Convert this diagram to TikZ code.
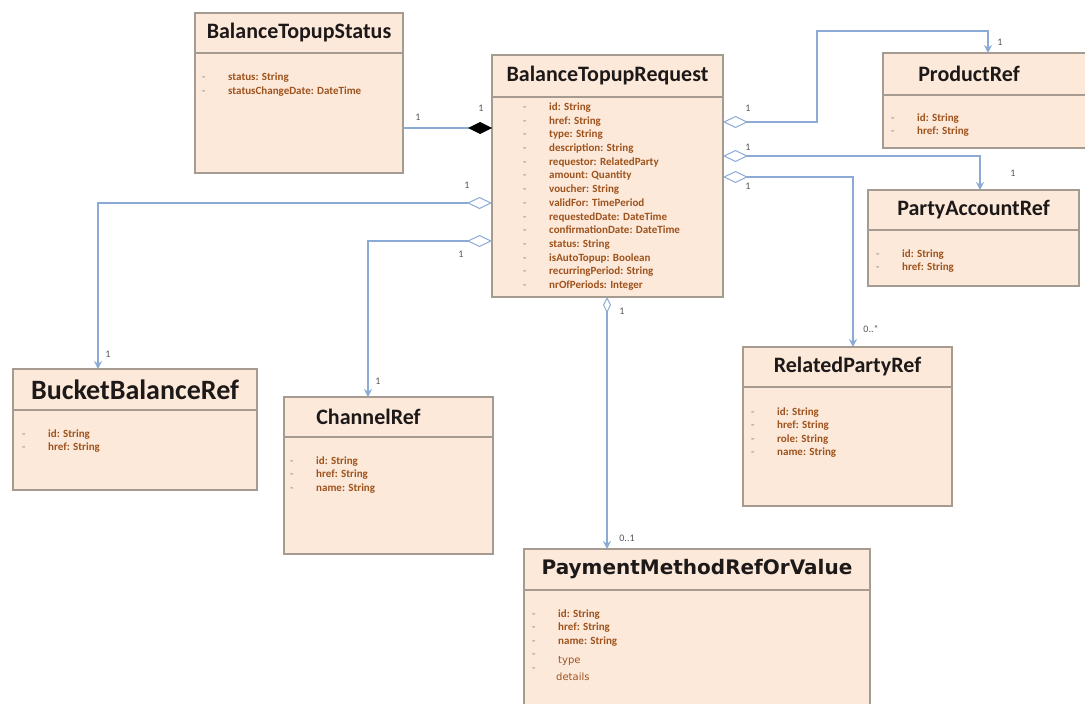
\documentclass[tikz,border=0pt]{standalone}
\usepackage{fontspec}
\setmainfont{Carlito}
\newfontfamily\dejavu{DejaVu Sans}
\usetikzlibrary{positioning,arrows.meta}

\definecolor{boxfill}{RGB}{252,233,218}
\definecolor{boxedge}{RGB}{165,155,145}
\definecolor{titlecol}{RGB}{30,25,25}
\definecolor{attrcol}{RGB}{158,82,28}
\definecolor{dashcol}{RGB}{175,160,150}
\definecolor{linkblue}{RGB}{140,170,214}
\definecolor{multcol}{RGB}{85,85,85}

\newcommand\umlattr[1]{\makebox[26pt][l]{\textcolor{dashcol}{-}}#1}

\begin{document}
\begin{tikzpicture}[x=1pt,y=-1pt,
    headbox/.style={draw=boxedge,fill=boxfill,line width=1.2pt,outer sep=0pt,inner sep=0pt,anchor=north west,text=titlecol,font=\fontsize{22}{24}\selectfont\bfseries},
    bodybox/.style={draw=boxedge,fill=boxfill,line width=1.2pt,outer sep=0pt,inner sep=0pt},
    attrs/.style={inner sep=0pt,align=left,text=attrcol,font=\fontsize{11}{13.5}\selectfont\bfseries},
    assoc/.style={draw=linkblue,line width=1.4pt},
    aggr/.style={assoc,arrows={Diamond[length=25pt,width=12pt,fill=white,line width=1pt]-Stealth[length=8pt,width=8pt]}},
    aggrv/.style={assoc,arrows={Diamond[length=16pt,width=8pt,fill=white,line width=1pt]-Stealth[length=8pt,width=8pt]}},
    comp/.style={assoc,arrows={-Diamond[length=24pt,width=12pt,fill=black,color=black]}},
    mult/.style={inner sep=0pt,text=multcol,font=\fontsize{10}{10}\selectfont}]
  \useasboundingbox (0,0) rectangle (1085,704);

  % classes
  \node[headbox,minimum width=208pt,minimum height=40pt] (statushead) at (195,13) {BalanceTopupStatus};
  \node[bodybox,minimum width=208pt,minimum height=120pt,below=0pt of statushead] (statusbody) {};
  \node[attrs,below right=20pt and 7pt of statusbody.north west] (statusattr)
    {\umlattr{status: String}\\ \umlattr{statusChangeDate: DateTime}};

  \node[headbox,minimum width=231pt,minimum height=42pt] (reqhead) at (492,55) {BalanceTopupRequest};
  \node[bodybox,minimum width=231pt,minimum height=200pt,below=0pt of reqhead] (reqbody) {};
  \node[attrs,font=\fontsize{11}{13.7}\selectfont\bfseries,below right=5.5pt and 31pt of reqbody.north west] (reqattr)
    {\umlattr{id: String}\\ \umlattr{href: String}\\ \umlattr{type: String}\\ \umlattr{description: String}\\
     \umlattr{requestor: RelatedParty}\\ \umlattr{amount: Quantity}\\ \umlattr{voucher: String}\\
     \umlattr{validFor: TimePeriod}\\ \umlattr{requestedDate: DateTime}\\ \umlattr{confirmationDate: DateTime}\\
     \umlattr{status: String}\\ \umlattr{isAutoTopup: Boolean}\\ \umlattr{recurringPeriod: String}\\
     \umlattr{nrOfPeriods: Integer}};

  \node[headbox,minimum width=206pt,minimum height=42pt] (prodhead) at (883,53) {\hspace*{-34pt}ProductRef};
  \node[bodybox,minimum width=206pt,minimum height=53pt,below=0pt of prodhead] (prodbody) {};
  \node[attrs,below right=18.5pt and 8pt of prodbody.north west] (prodattr)
    {\umlattr{id: String}\\ \umlattr{href: String}};

  \node[headbox,minimum width=211pt,minimum height=40pt] (partyhead) at (868,190) {PartyAccountRef};
  \node[bodybox,minimum width=211pt,minimum height=56pt,below=0pt of partyhead] (partybody) {};
  \node[attrs,below right=19.5pt and 8pt of partybody.north west] (partyattr)
    {\umlattr{id: String}\\ \umlattr{href: String}};

  \node[headbox,minimum width=244pt,minimum height=41pt,font=\fontsize{28}{30}\selectfont\bfseries] (buckethead) at (13,369) {BucketBalanceRef};
  \node[bodybox,minimum width=244pt,minimum height=80pt,below=0pt of buckethead] (bucketbody) {};
  \node[attrs,below right=19.5pt and 9pt of bucketbody.north west] (bucketattr)
    {\umlattr{id: String}\\ \umlattr{href: String}};

  \node[headbox,minimum width=209pt,minimum height=40pt] (chanhead) at (284,397) {\hspace*{-40pt}ChannelRef};
  \node[bodybox,minimum width=209pt,minimum height=117pt,below=0pt of chanhead] (chanbody) {};
  \node[attrs,below right=19.5pt and 6pt of chanbody.north west] (chanattr)
    {\umlattr{id: String}\\ \umlattr{href: String}\\ \umlattr{name: String}};

  \node[headbox,minimum width=209pt,minimum height=40pt] (relhead) at (743,347) {RelatedPartyRef};
  \node[bodybox,minimum width=209pt,minimum height=119pt,below=0pt of relhead] (relbody) {};
  \node[attrs,below right=20.5pt and 8pt of relbody.north west] (relattr)
    {\umlattr{id: String}\\ \umlattr{href: String}\\ \umlattr{role: String}\\ \umlattr{name: String}};

  \node[headbox,minimum width=346pt,minimum height=41pt,font=\fontsize{20}{22}\selectfont\dejavu\bfseries] (payhead) at (524,549) {PaymentMethodRefOrValue};
  \node[bodybox,minimum width=346pt,minimum height=125pt,below=0pt of payhead] (paybody) {};
  \node[attrs,below right=19.5pt and 8pt of paybody.north west] (payattr)
    {\umlattr{id: String}\\ \umlattr{href: String}\\ \umlattr{name: String}\\
     \umlattr{\smash{\raisebox{-6pt}{\fontsize{10}{12}\selectfont\dejavu\mdseries type}}}\\
     \umlattr{\hspace*{-2pt}\smash{\raisebox{-9pt}{\fontsize{10}{12}\selectfont\dejavu\mdseries details}}}};

  % connectors
  \draw[comp] (statusbody.east |- 0,128) -- (reqbody.west |- 0,128);
  \draw[aggr] (reqbody.west |- 0,203) -| (buckethead.north -| 98,0);
  \draw[aggr] (reqbody.west |- 0,241) -| (chanhead.north -| 368,0);
  \draw[aggrv] (reqbody.south -| 607,0) -- (payhead.north -| 607,0);
  \draw[aggr] (reqbody.east |- 0,122) -| (817,31) -| (prodhead.north -| 988,0);
  \draw[aggr] (reqbody.east |- 0,156) -| (partyhead.north -| 980,0);
  \draw[aggr] (reqbody.east |- 0,177) -| (relhead.north -| 853,0);

  % multiplicities
  \node[mult] (m1) at (418,117) {1};
  \node[mult] (m2) at (481,108) {1};
  \node[mult] (m3) at (467,185) {1};
  \node[mult] (m4) at (108,354) {1};
  \node[mult] (m5) at (461,254) {1};
  \node[mult] (m6) at (378,381) {1};
  \node[mult] (m7) at (622,311) {1};
  \node[mult] (m8) at (627,538) {0..1};
  \node[mult] (m9) at (748,108) {1};
  \node[mult] (m10) at (1000,42) {1};
  \node[mult] (m11) at (748,147) {1};
  \node[mult] (m12) at (1013,173) {1};
  \node[mult] (m13) at (748,186) {1};
  \node[mult] (m14) at (871,329) {0..*};
\end{tikzpicture}
\end{document}
